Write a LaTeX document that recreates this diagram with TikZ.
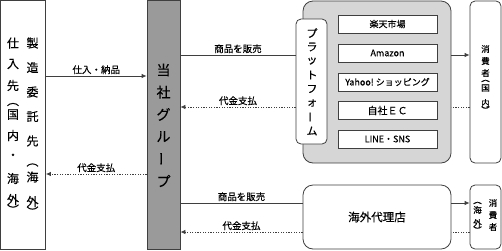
\documentclass[tikz,border=0pt]{standalone}
\usepackage{fontspec}
\usepackage{graphicx}
\setmainfont{Noto Sans CJK JP}[FakeBold=0.3]
\usetikzlibrary{arrows.meta}
\definecolor{lineC}{HTML}{3F3F3F}
\definecolor{grpC}{HTML}{9A9A9A}
\definecolor{platC}{HTML}{D6D6D6}
% vertical text helpers: each char centred on a zero-height cell, kerns give pitch
\newcommand\cz[1]{\hbox to 1.1em{\hss\vbox to 0pt{\vss\hbox{#1}\vss}\hss}}
\newcommand\vstack[1]{\vbox{\offinterlineskip #1}}
\newcommand\vbar{\rotatebox[origin=c]{90}{ー}}
\begin{document}
\begin{tikzpicture}[x=1pt,y=-1pt,
  box/.style={draw=lineC, line width=0.8pt, inner sep=0pt, fill=white},
  conn/.style={draw=lineC, line width=0.8pt},
  pay/.style={conn, dash pattern=on 1.3pt off 1.3pt},
  tip/.style={-{Latex[length=5pt,width=4.5pt]}},
  lbl/.style={font=\fontsize{9.5}{10}\selectfont, inner sep=1.5pt},
  vt/.style={inner sep=0pt},
  shop/.style={box, minimum width=99pt, minimum height=18pt, font=\fontsize{9}{10}\selectfont}
]
\useasboundingbox (0,0) rectangle (502,250);
% helper y-levels
\coordinate (ya) at (0,76);
\coordinate (yb) at (0,174);
\coordinate (yc) at (0,55);
\coordinate (yd) at (0,107);
\coordinate (ye) at (0,203);
\coordinate (yf) at (0,232);

% left supplier box
\node[box, minimum width=45pt, minimum height=249pt] (L) at (23,125) {};
\node[vt, font=\fontsize{12}{12}\selectfont] (Lt1) at (13,126.25)
  {\vstack{\cz{仕}\kern21pt\cz{入}\kern21.5pt\cz{先}\kern19pt\cz{︵}\kern10pt\cz{国}\kern21pt
   \cz{内}\kern21pt\cz{・}\kern22pt\cz{海}\kern21pt\cz{外}\kern10pt\cz{︶}}};
\node[vt, font=\fontsize{12}{12}\selectfont] (Lt2) at (32.5,127.25)
  {\vstack{\cz{製}\kern24.5pt\cz{造}\kern24.5pt\cz{委}\kern24.5pt\cz{託}\kern24.5pt\cz{先}\kern24pt
   \cz{︵}\kern12pt\cz{海}\kern24.5pt\cz{外}\kern10pt\cz{︶}}};

% group box
\node[box, fill=grpC, minimum width=33pt, minimum height=249pt] (G) at (163.5,125) {};
\node[vt, font=\fontsize{14}{14}\selectfont] (Gt) at (163.5,125.5)
  {\vstack{\cz{当}\kern22.2pt\cz{社}\kern22.2pt\cz{グ}\kern22.2pt\cz{ル}\kern22.2pt\cz{\vbar}\kern22.2pt\cz{プ}}};

% platform area
\node[box, fill=platC, rounded corners=10pt, minimum width=148pt, minimum height=162pt] (P) at (377,82) {};
\node[box, rounded corners=5pt, minimum width=31pt, minimum height=125pt] (PF) at (311.5,81.5) {};
\node[vt, font=\fontsize{11}{11}\selectfont] (PFt) at (312,82)
  {\vstack{\cz{プ}\kern14pt\cz{ラ}\kern14pt\cz{ッ}\kern14pt\cz{ト}\kern14pt\cz{フ}\kern14pt
   \cz{ォ}\kern14pt\cz{\vbar}\kern14pt\cz{ム}}};
\node[shop] (s1) at (387.5,24) {楽天市場};
\node[shop] (s2) at (387.5,53) {Amazon};
\node[shop] (s3) at (387.5,82) {Yahoo!\ ショッピング};
\node[shop, font=\fontsize{10}{10}\selectfont] (s4) at (387.5,110.5) {自社ＥＣ};
\node[shop] (s5) at (387.5,139) {LINE・SNS};

% consumers domestic
\node[box, rounded corners=5pt, minimum width=31pt, minimum height=162pt] (C1) at (485.5,82) {};
\node[vt, font=\fontsize{8.5}{8.5}\selectfont] (C1t) at (485.5,79.5)
  {\vstack{\cz{消}\kern12pt\cz{費}\kern12pt\cz{者}\kern8pt\cz{︵}\kern7pt\cz{国}\kern15pt\cz{内}\kern7pt\cz{︶}}};

% overseas agent
\node[box, rounded corners=10pt, minimum width=148pt, minimum height=64pt, font=\fontsize{11.5}{12}\selectfont] (A) at (377,217) {海外代理店};
\node[box, rounded corners=5pt, minimum width=31pt, minimum height=64pt] (C2) at (485.5,217) {};
\node[vt, font=\fontsize{8.5}{8.5}\selectfont] (C2t1) at (493,215)
  {\vstack{\cz{消}\kern12pt\cz{費}\kern12pt\cz{者}}};
\node[vt, font=\fontsize{8.5}{8.5}\selectfont] (C2t2) at (477.5,216.5)
  {\vstack{\cz{︵}\kern7pt\cz{海}\kern13pt\cz{外}\kern7pt\cz{︶}}};

% connectors
\draw[conn,tip] (L.east |- ya) -- (G.west |- ya) node[lbl,midway,above] {仕入・納品};
\draw[pay,tip] (G.west |- yb) -- (L.east |- yb) node[lbl,midway,above] {代金支払};

\draw[conn] (G.east |- yc) -- (PF.west |- yc) node[lbl,midway,above] {商品を販売};
\draw[conn,tip] (P.east |- yc) -- (C1.west |- yc);
\draw[pay] (C1.west |- yd) -- (P.east |- yd);
\draw[pay,tip] (PF.west |- yd) -- (G.east |- yd) node[lbl,midway,above] {代金支払};

\draw[conn] (G.east |- ye) -- (A.west |- ye) node[lbl,midway,above] {商品を販売};
\draw[conn,tip] (A.east |- ye) -- (C2.west |- ye);
\draw[pay] (C2.west |- yf) -- (A.east |- yf);
\draw[pay,tip] (A.west |- yf) -- (G.east |- yf) node[lbl,midway,above] {代金支払};
\end{tikzpicture}
\end{document}
